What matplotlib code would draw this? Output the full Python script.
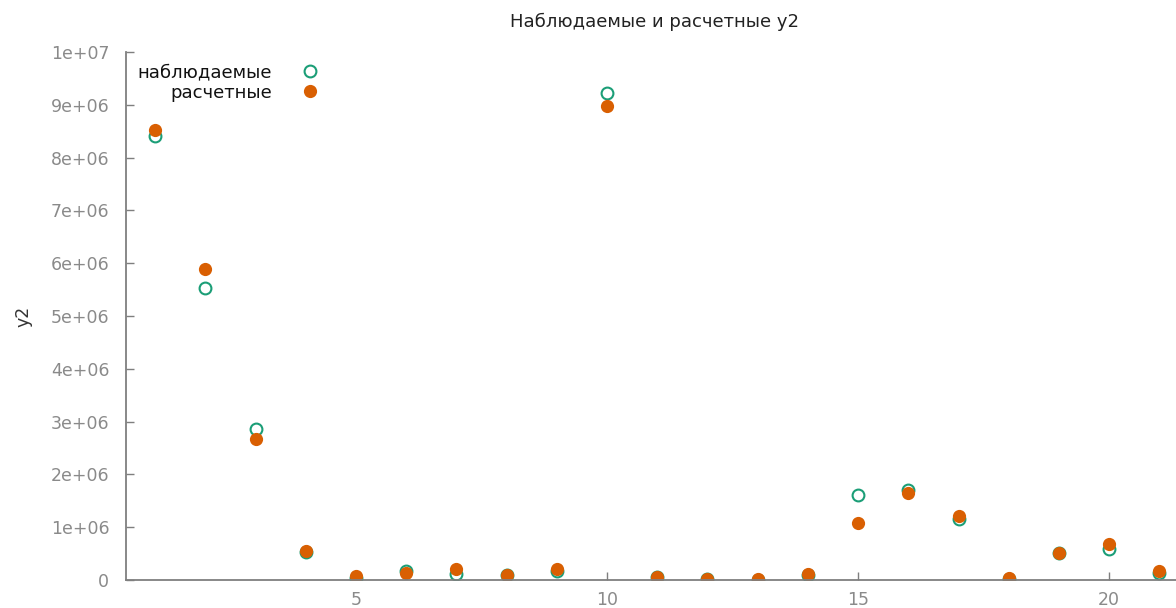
import matplotlib
matplotlib.use("Agg")
import matplotlib.pyplot as plt

x = [1, 2, 3, 4, 5, 6, 7, 8, 9, 10, 11, 12, 13, 14, 15, 16, 17, 18, 19, 20, 21]
y_obs = [8.41e6, 5.53e6, 2.86e6, 0.53e6, 0.04e6, 0.17e6, 0.12e6, 0.10e6, 0.17e6,
         9.22e6, 0.05e6, 0.02e6, 0.0, 0.10e6, 1.61e6, 1.70e6, 1.16e6, 0.02e6,
         0.51e6, 0.59e6, 0.14e6]
y_calc = [8.52e6, 5.89e6, 2.67e6, 0.55e6, 0.08e6, 0.14e6, 0.20e6, 0.10e6, 0.20e6,
          8.98e6, 0.05e6, 0.02e6, 0.01e6, 0.11e6, 1.08e6, 1.65e6, 1.21e6, 0.04e6,
          0.51e6, 0.68e6, 0.17e6]
yticks = [0, 1e6, 2e6, 3e6, 4e6, 5e6, 6e6, 7e6, 8e6, 9e6, 1e7]
ytick_labels = ["0", "1e+06", "2e+06", "3e+06", "4e+06", "5e+06",
                "6e+06", "7e+06", "8e+06", "9e+06", "1e+07"]
xticks = [5, 10, 15, 20]

GREEN = "#1b9e77"
ORANGE = "#d95f02"
AXIS = "#7f7f7f"
TICKTXT = "#8a8a8a"

fig = plt.figure(figsize=(11.76, 6.08), dpi=100)
ax = fig.add_axes([126 / 1176, 28 / 608, 1 - 126 / 1176, 528 / 608])

ax.plot(x, y_obs, linestyle="none", marker="o", markersize=8.5,
        markerfacecolor="none", markeredgecolor=GREEN, markeredgewidth=1.5,
        label="наблюдаемые")
ax.plot(x, y_calc, linestyle="none", marker="o", markersize=9.5,
        color=ORANGE, markeredgewidth=0, label="расчетные")

ax.set_xlim(0.42, 21.33)
ax.set_ylim(0, 1e7)
ax.set_xticks(xticks)
ax.set_xticklabels([str(v) for v in xticks])
ax.set_yticks(yticks)
ax.set_yticklabels(ytick_labels)

for side in ["top", "right"]:
    ax.spines[side].set_visible(False)
for side in ["left", "bottom"]:
    ax.spines[side].set_color(AXIS)
    ax.spines[side].set_linewidth(1.3)
ax.tick_params(direction="in", length=6, width=1, color=AXIS,
               labelcolor=TICKTXT, labelsize=12.5)
ax.tick_params(axis="y", pad=12)
ax.tick_params(axis="x", pad=8)
ax.set_ylabel("y2", fontsize=12.5, color="#333333")
ax.yaxis.set_label_coords(-94 / 1050, 0.5)

fig.text(655 / 1176, 1 - 22 / 608, "Наблюдаемые и расчетные y2",
         ha="center", va="center", fontsize=13, color="#222222")

leg = ax.legend(loc="upper left", bbox_to_anchor=(0.0, 1.0), frameon=False,
                markerfirst=False, fontsize=13, handlelength=1.0,
                handletextpad=1.6, labelspacing=0.1, borderaxespad=0.25)
for t in leg.get_texts():
    t.set_color("#111111")

fig.savefig("out.png", dpi=100, facecolor="white")
